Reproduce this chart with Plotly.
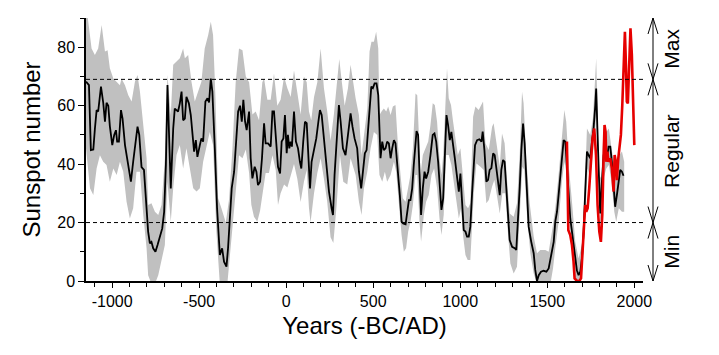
import plotly.graph_objects as go

# ---------------- data ----------------
mean_years = [-1150, -1133, -1122, -1108, -1099, -1089, -1080, -1064, -1051, -1041, -1032, -1022, -1013,
              -999, -988, -978, -971, -961, -949, -940, -926, -907, -892, -879, -865, -854, -844, -831,
              -817, -806, -793, -783, -774, -764, -751, -739, -726, -712, -701, -691, -682, -672, -663,
              -649, -640, -630, -621, -611, -601, -592, -582, -573, -559, -548, -538, -529, -519, -510,
              -496, -487, -477, -464, -452, -443, -433, -424, -410, -397, -381, -368, -357,
              -343, -334, -324, -313, -299, -286, -276, -265, -255, -246, -236, -227, -213, -204, -194,
              -181, -171, -162, -150, -139, -127, -118, -104, -89, -79, -70, -60, -47, -35, -26, -16, -7,
              3, 10, 18, 26, 33, 45, 56, 68, 79, 87, 98, 108, 118, 127, 137, 146, 160, 173, 185, 194,
              204, 217, 232, 246, 261, 269, 278, 290, 303, 313, 326, 341, 355, 370, 381, 393,
              408, 418, 431, 441, 452, 462, 471, 481, 489, 498, 508, 519, 529, 536, 542, 552, 561, 571,
              580, 590, 600, 609, 619, 628, 642, 653, 663, 672, 686, 695, 705, 714, 724, 733, 743, 749,
              758, 768, 775, 785, 795, 804, 816, 829, 842, 852, 862, 873, 883, 892, 902, 911, 921, 930,
              940, 949, 959, 969, 978, 992, 1001, 1011, 1020, 1030, 1039, 1049,
              1058, 1068, 1078, 1085, 1097, 1110, 1122, 1129, 1139, 1150, 1160, 1169, 1179, 1189, 1198,
              1208, 1217, 1227, 1236, 1246, 1255, 1265, 1275, 1284, 1298, 1313, 1322, 1332, 1342, 1351,
              1361, 1370, 1380, 1393, 1408, 1422, 1431, 1441, 1451, 1464, 1479, 1495, 1508, 1518, 1527,
              1537, 1546, 1556, 1565, 1575, 1584, 1594, 1604, 1613, 1623, 1632, 1642, 1651, 1661, 1670,
              1680, 1690, 1699, 1709, 1718, 1728, 1737, 1747, 1757, 1766, 1776, 1781, 1789, 1797, 1804,
              1814, 1824, 1833, 1843, 1852, 1862, 1871, 1881, 1890, 1900, 1910, 1919, 1929, 1938]
mean_vals = [68.2, 67, 44.8, 45, 52, 58.5, 58, 66.5, 61, 54.5, 61, 60, 53,
             46.5, 50, 51.6, 47.7, 47.7, 58.5, 55.6, 46.5, 38.5, 34, 40.8, 48.8, 52.8, 50, 39,
             38, 29.4, 16.9, 12.9, 13.4, 11.2, 10, 12.3, 15, 18, 23.7, 39.7, 67.1, 51, 31.7,
             52.2, 59, 58.5, 58, 60.8, 64.8, 55, 55.6, 63, 60.8, 56.8, 48.8, 44.3, 48.2, 42.5,
             46.5, 48.8, 47.7, 61.4, 62.5, 61.1, 69.3, 64.8, 45.4, 24.9, 8.9, 11.2, 6.6,
             4.9, 11.2, 22.6, 31.7, 37.4, 48.8, 58, 60, 54.5, 62, 54.5, 51.6, 58, 42, 35.1,
             39.1, 37.4, 32.8, 34, 42, 54, 47.1, 47.1, 46, 58, 58, 50, 39.1, 36.8, 47.7, 48.8, 56.8,
             43.7, 50, 45.4, 47.7, 46, 58, 47.7, 45.4, 40.8, 38.5, 47.7, 54.5, 54, 42, 31.7, 40.8, 45.4, 48.8, 54.5, 58.5,
             56.8, 48.8, 39.7, 30.6, 24.9, 22.6, 36.3, 50, 60.2, 54.5, 45.4, 43.1, 51, 57.4, 52.8, 48.8,
             45.4, 37.4, 31.7, 37.4, 43.7, 44.8, 52.2, 60.2, 66.5, 66, 67.6, 67.6, 63.6, 52.2, 42, 47.7, 44.8, 45.4,
             47.7, 47.1, 42, 45.4, 48.2, 47.1, 38.5, 29.4, 20.3, 19.7, 19.4, 23.7, 27.7, 27.7, 31.7, 39.7, 47.7, 51.3,
             50, 31.7, 22.6, 31.7, 37.4, 35.1, 37.4, 43.1, 50, 50.5, 47.7, 40.8, 30.6, 24.3, 28.3, 43.1, 56.8, 53.4,
             48.2, 51, 45.4, 42, 37.4, 30.6, 36.8, 27.1, 17.4, 16.9, 15.2, 15.2,
             18.6, 30, 41.4, 46.5, 48.2, 48.5, 47.7, 51.1, 44.8, 34, 34.6, 38, 38.6, 43.7, 43.1,
             38, 32.3, 29.4, 38, 41.4, 40.8, 32.3, 23.1, 14, 11.7, 11.2, 10.6, 19.7, 32.3, 44.8,
             53.9, 47.1, 32.3, 18.6, 13.4, 9.5, 3.8, 0, 2, 3.2, 3.5, 3.2, 4.3, 7.7, 11.2,
             13.4, 20.3, 23.7, 29.4, 36.3, 43.1, 48.2, 47.7, 39.7, 29.4, 21.4, 16.9, 12.3, 7.7, 3.7,
             2, 3.2, 7.7, 16.9, 30.6, 44.3, 43.1, 42, 47.7, 52.2, 60.2, 65.9, 50, 30.6, 23.1,
             34, 43.1, 44.3, 42, 46, 46, 40.8, 30.6, 25.4, 29.4, 34, 38, 37.4, 36]

upper_years = [-1150, -1118, -1099, -1080, -1060, -1041, -1026, -1013, -993, -974, -955, -946, -926, -907,
               -888, -869, -854, -840, -821, -802, -793, -774, -754, -735, -716, -697, -682, -663, -649,
               -630, -611, -592, -582, -563, -544, -525, -506, -487, -468, -448, -433, -420, -406, -391,
               -372, -347, -328, -309, -290, -271, -251, -232, -213, -194, -175, -156, -137, -127, -108,
               -89, -70, -51, -32, -12, 7, 26, 45, 64, 83, 102, 118, 131, 144, 160, 179, 198, 217, 236,
               255, 274, 294, 305, 316, 336, 355, 370,
               399, 418, 433, 447, 466, 479, 490, 504, 517, 529, 536, 548, 561, 575, 586, 600, 613, 628,
               642, 657, 670, 686, 701, 714, 728, 743, 753, 762, 772, 785, 800, 816, 829, 842, 854, 867,
               881, 892, 902, 915, 924, 934, 947, 959, 972, 986, 1001, 1014, 1030, 1045,
               1058, 1074, 1087, 1106, 1131, 1145, 1164, 1183, 1192, 1211, 1227, 1240, 1255, 1269, 1284,
               1307, 1326, 1342, 1355, 1364, 1380, 1399, 1422, 1441, 1460, 1489, 1508, 1527, 1546, 1565,
               1584, 1598, 1609, 1623, 1642, 1661, 1680, 1699, 1713, 1728, 1747, 1762, 1776, 1781, 1789,
               1799, 1810, 1824, 1839, 1854, 1869, 1885, 1900, 1915, 1929, 1942]
upper_vals = [95, 79.6, 77.3, 79.6, 87.6, 78.5, 79, 72.8, 69.3, 68.2, 67, 69.3, 67, 63.6,
              61.4, 68.2, 70.5, 64.8, 54.5, 42, 26, 26.6, 23.7, 22.6, 26, 42, 70.5, 56.8, 74,
              75, 76.2, 79.6, 76.2, 77.3, 68.2, 61.4, 64.8, 68.2, 79.6, 84.2, 88.7, 84.2, 62.5, 28.3,
              24.9, 20, 28, 45, 68, 79.6, 79, 70, 68, 57, 58, 55, 68, 69.3, 62,
              62, 71, 60, 62, 70, 66, 63, 72, 64, 57, 70, 68, 58, 55, 63, 68, 79.6, 66, 58,
              48, 57, 70, 76, 70, 60, 66, 74,
              62.5, 56.8, 43.1, 50, 59, 78.5, 81.9, 81.9, 85.3, 79.6, 56.8, 58, 59, 58, 59.7, 56.8, 59.7, 60.2,
              46.5, 36.3, 28.3, 27.1, 31.7, 36.3, 45.4, 64.2, 63.6, 47.7, 36.3, 43.1, 45.4, 47.7, 53.4, 60.8, 60.2, 54.5,
              42, 36.3, 43.1, 64.8, 72.8, 62.5, 60.2, 54.5, 48.8, 43.1, 45.4, 37.4, 26, 24.9,
              26.6, 56.2, 59.7, 58.5, 61.4, 47.1, 44.8, 52.8, 54, 46, 39.1, 50.5, 47.1, 34.6, 23.1,
              22, 26.6, 43.7, 64.8, 60.8, 41.4, 26.6, 15.2, 9.5, 10.6, 10.6, 10, 16.9, 24.9, 36.3,
              48.8, 58.5, 54.5, 39.7, 27.1, 13.4, 7.7, 12.3, 27.1, 52.2, 50, 55.6, 70.5, 76.2, 59,
              36.3, 35.1, 52.2, 51, 52.2, 45.4, 39.7, 39.7, 43.1, 44.3, 40.8]

lower_years = [-1150, -1127, -1108, -1089, -1070, -1051, -1032, -1013, -993, -974, -955, -936, -917, -898,
               -879, -860, -840, -821, -802, -793, -774, -754, -735, -716, -697, -682, -663, -649, -630,
               -611, -592, -573, -554, -534, -515, -496, -477, -458, -439, -420, -401, -381, -357,
               -338, -322, -309, -290, -271, -251, -232, -213, -200, -185, -166, -150, -137, -118, -99,
               -79, -60, -47, -32, -12, 7, 26, 45, 64, 83, 102, 118, 131, 140, 160, 179, 198, 217, 236,
               255, 271, 290, 309, 328, 351, 370,
               399, 418, 433, 447, 466, 485, 504, 523, 536, 552, 567, 580, 600, 619, 632, 647, 663, 676,
               689, 701, 714, 728, 743, 753, 766, 775, 791, 804, 819, 835, 850, 867, 881, 892, 905, 919,
               934, 949, 963, 978, 992, 1005, 1016, 1030, 1043,
               1058, 1078, 1093, 1116, 1135, 1150, 1164, 1183, 1196, 1215, 1227, 1242, 1259, 1273, 1288,
               1307, 1326, 1342, 1357, 1368, 1384, 1403, 1422, 1441, 1518, 1533, 1546, 1565, 1584, 1598,
               1609, 1625, 1642, 1661, 1674, 1693, 1705, 1720, 1732, 1747, 1762, 1776, 1781, 1789, 1801,
               1810, 1824, 1839, 1854, 1869, 1885, 1896, 1911, 1929, 1942]
lower_vals = [45.4, 31.7, 29.4, 38.5, 43, 40.8, 39.7, 34, 38.5, 36.3, 40.8, 37.4, 27.1, 21.4,
              24.9, 37.4, 37.4, 22.6, 11.2, 2, -1, -1, 2, 6.6, 12.3, 34, 20.3, 31.7, 43.1,
              46.5, 38.5, 45.4, 38.5, 31.7, 30.6, 31.7, 40.8, 45.4, 51, 46.5, 16.9, -1, -1,
              -1, 10, 18, 30, 43, 42, 45, 37, 26, 22, 20.3, 24, 30, 37, 37,
              43, 38, 26, 30, 33, 32, 36, 40, 35, 27, 34, 38, 25, 20, 30, 37, 42, 35, 27,
              15, 13, 26, 43, 34, 33, 42,
              36.3, 27.1, 22.6, 31.7, 37.4, 45.4, 51, 50, 36.3, 34, 37.4, 34, 36.3, 40.8, 37.4, 26, 15.7, 10,
              11.2, 16.9, 20.3, 26, 36.3, 36.3, 20.3, 13.4, 22.6, 27.1, 29.4, 36.3, 38.5, 31.7, 21.4, 15.7, 22.6, 43.1,
              43.1, 39.7, 34, 27.1, 21.4, 24.9, 15.7, 8.9, 7.2,
              7.2, 30, 40.2, 39.1, 38, 26.6, 27.7, 32.3, 34.6, 27.7, 23.1, 30, 30, 17.4, 6,
              2.6, 4.9, 22, 39.1, 38, 22, 9.5, 2.6, -1, -1, 4.3, 11.2, 20.3, 34, 40.8,
              37.4, 21.4, 11.2, 0.9, -1, -1, 6.6, 22.6, 38.5, 35.1, 43.1, 52.2, 56.8, 40.8, 22.6,
              18, 35.1, 38.5, 39.7, 34, 23.7, 20.3, 24.9, 23.7, 23.7]

red_years = [1613, 1617, 1621, 1632, 1642, 1651, 1657, 1671, 1684, 1694, 1701, 1709, 1718, 1724, 1732,
             1741, 1751, 1760, 1770, 1780, 1789, 1799, 1808, 1816, 1824, 1829, 1835, 1839, 1845, 1852,
             1862, 1871, 1881, 1887, 1894, 1900, 1908, 1915, 1923, 1931, 1938, 1946, 1952, 1957, 1963,
             1971, 1978, 1986, 1994, 2000]
red_vals = [47.7, 27.1, 17.4, 15.7, 12.3, 6.6, 0.9, 0, 0, 0.9, 8.9, 18, 26, 23.7, 24.9,
            31.7, 40.8, 48.8, 52.2, 43.1, 26, 16.9, 13.4, 22.6, 43.1, 53.4, 51, 40.8, 44.3, 40.8,
            42, 38.5, 30.6, 43.1, 40.8, 34.5, 42, 45.4, 50, 60.2, 70.5, 85.3, 74, 61.4, 60.8,
            74, 86.5, 77.3, 62.5, 46.5]

x_tickvals = [-1000, -500, 0, 500, 1000, 1500, 2000]
y_tickvals = [0, 20, 40, 60, 80]
level_lines = [20, 69]
regime_labels = ["Max", "Regular", "Min"]
regime_bounds = [(69, 90), (20, 69), (0, 20)]

X_RANGE = [-1150, 2050]
Y_RANGE = [0, 90]
FONT = "Liberation Sans, Arial, sans-serif"

# the page body has an 8px margin, so the figure is drawn 8px in from the window edge
W, H = 711, 347
ML, MT, MR, MB = 78, 10, 76, 74
PLOT_W = W - ML - MR
PLOT_H = H - MT - MB

fig = go.Figure()

# uncertainty band
fig.add_trace(go.Scatter(
    x=upper_years + lower_years[::-1],
    y=upper_vals + lower_vals[::-1],
    fill="toself", fillcolor="#c0c0c0", mode="lines",
    line=dict(width=0, color="#c0c0c0"), hoverinfo="skip", showlegend=False))

# reconstruction
fig.add_trace(go.Scatter(x=mean_years, y=mean_vals, mode="lines",
                         line=dict(color="black", width=1.8), showlegend=False))
# observed
fig.add_trace(go.Scatter(x=red_years, y=red_vals, mode="lines",
                         line=dict(color="#e60000", width=2.6), showlegend=False))

shapes = []
for lv in level_lines:
    shapes.append(dict(type="line", xref="paper", x0=0, x1=1, yref="y", y0=lv, y1=lv,
                       line=dict(color="black", width=1, dash="4px,3px"), layer="above"))

# right-hand regime arrows (open chevron heads)
ax_x = 1 + 10.0 / PLOT_W
hw = 5.0 / PLOT_W          # chevron half width (paper fraction)
hl = 16.0 / PLOT_H         # chevron length (paper fraction)


def yf(v):
    return (v - Y_RANGE[0]) / (Y_RANGE[1] - Y_RANGE[0])


shapes.append(dict(type="line", xref="paper", yref="paper", x0=ax_x, x1=ax_x, y0=0, y1=1,
                   line=dict(color="black", width=1)))
for lo, hi in regime_bounds:
    ylo, yhi = yf(lo), yf(hi)
    shapes.append(dict(type="path", xref="paper", yref="paper",
                       path=f"M {ax_x-hw},{yhi-hl} L {ax_x},{yhi} L {ax_x+hw},{yhi-hl}",
                       line=dict(color="black", width=1)))
    shapes.append(dict(type="path", xref="paper", yref="paper",
                       path=f"M {ax_x-hw},{ylo+hl} L {ax_x},{ylo} L {ax_x+hw},{ylo+hl}",
                       line=dict(color="black", width=1)))

annotations = []
for lab, (lo, hi) in zip(regime_labels, regime_bounds):
    annotations.append(dict(text=lab, xref="paper", yref="y", x=1 + 29.0 / PLOT_W, y=(lo + hi) / 2,
                            textangle=-90, showarrow=False, xanchor="center", yanchor="middle",
                            font=dict(size=21, color="black", family=FONT)))

fig.update_layout(
    width=W, height=H,
    margin=dict(l=ML, r=MR, t=MT, b=MB),
    paper_bgcolor="white", plot_bgcolor="white",
    font=dict(family=FONT, color="black"),
    shapes=shapes, annotations=annotations,
    xaxis=dict(range=X_RANGE, tickvals=x_tickvals, ticktext=[str(v) for v in x_tickvals],
               ticks="outside", ticklen=5, tickwidth=1.3, tickcolor="black",
               minor=dict(dtick=100, tick0=0, ticks="outside", ticklen=4, tickwidth=1.3, tickcolor="black"),
               showline=True, linecolor="black", linewidth=1.5, showgrid=False, zeroline=False,
               tickfont=dict(size=16, family=FONT, color="black"),
               title=dict(text="Years (-BC/AD)", font=dict(size=24, family=FONT, color="black"), standoff=8)),
    xaxis2=dict(range=X_RANGE, overlaying="x", side="top", anchor="y",
                tickvals=x_tickvals, ticks="inside", ticklen=6, tickwidth=1.3, tickcolor="black",
                minor=dict(dtick=100, tick0=0, ticks="inside", ticklen=3, tickwidth=1.3, tickcolor="black"),
                showticklabels=False, showline=True, linecolor="black", linewidth=1.5,
                showgrid=False, zeroline=False),
    yaxis=dict(range=Y_RANGE, tickvals=y_tickvals, ticks="outside", ticklen=6, tickwidth=1.3,
               tickcolor="black",
               minor=dict(dtick=10, tick0=0, ticks="outside", ticklen=4, tickwidth=1.3, tickcolor="black"),
               showline=True, linecolor="black", linewidth=1.5, showgrid=False, zeroline=False,
               tickfont=dict(size=16, family=FONT, color="black"),
               title=dict(text="Sunspot number", font=dict(size=24, family=FONT, color="black"), standoff=10)),
    yaxis2=dict(range=Y_RANGE, overlaying="y", side="right", anchor="x",
                tick0=0, dtick=10, ticks="outside", ticklen=5, tickwidth=1.3, tickcolor="black",
                showticklabels=False, showline=True, linecolor="black", linewidth=1.5,
                showgrid=False, zeroline=False),
)

fig.write_html("out.html")
